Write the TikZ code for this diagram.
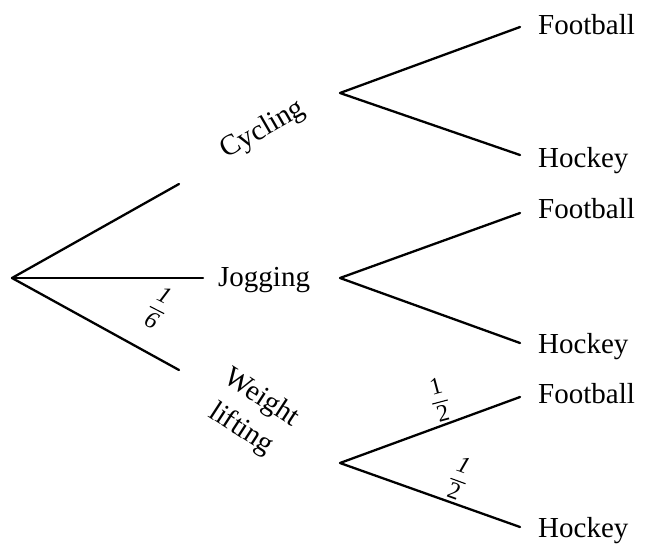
\documentclass[tikz,border=0pt]{standalone}
\usepackage{fontspec}
\setmainfont{Liberation Serif}
\newcommand{\myfrac}[2]{{\renewcommand{\arraystretch}{0.95}\setlength{\arrayrulewidth}{1.1pt}\begin{tabular}{@{\hspace{2pt}}c@{\hspace{2pt}}}#1\\\hline #2\end{tabular}}}
\begin{document}
\begin{tikzpicture}[x=1pt,y=-1pt,
  branch/.style={line width=2.3pt, line cap=round, line join=round},
  lbl/.style={font=\fontsize{29}{35}\selectfont, inner sep=0pt},
  prob/.style={font=\fontsize{24}{28}\selectfont, inner sep=0pt}]
\useasboundingbox (0,0) rectangle (645,544);
% level 1
\coordinate (root) at (12,278);
\coordinate (c1) at (179,184);
\coordinate (j1) at (203,278);
\coordinate (w1) at (179,370);
\draw[branch] (root) -- (c1);
\draw[branch] (root) -- (j1);
\draw[branch] (root) -- (w1);
\node[lbl, rotate=30] (cyc) at (263,130) {Cycling};
\node[lbl, anchor=base west] (jog) at (218,286) {Jogging};
\node[lbl, rotate=-33, align=center] (wl) at (251,414) {Weight\\[2pt]lifting};
\node[prob, rotate=-27] (p16) at (157,310) {\myfrac{\itshape 1}{\itshape 6}};
% level 2 apexes
\coordinate (ca) at (340,93);
\coordinate (ja) at (340,278);
\coordinate (wa) at (340,463);
% ends
\coordinate (cf) at (520,27);
\coordinate (ch) at (520,155);
\coordinate (jf) at (520,213);
\coordinate (jh) at (520,343);
\coordinate (wf) at (520,397);
\coordinate (wh) at (520,527);
\draw[branch] (cf) -- (ca) -- (ch);
\draw[branch] (jf) -- (ja) -- (jh);
\draw[branch] (wf) -- (wa) -- (wh);
\node[lbl, anchor=base west] (cfl) at (538,34) {Football};
\node[lbl, anchor=base west] (chl) at (538,167) {Hockey};
\node[lbl, anchor=base west] (jfl) at (538,218) {Football};
\node[lbl, anchor=base west] (jhl) at (538,353) {Hockey};
\node[lbl, anchor=base west] (wfl) at (538,403) {Football};
\node[lbl, anchor=base west] (whl) at (538,537) {Hockey};
\node[prob, rotate=15] (p12a) at (440,402) {\myfrac{1}{2}};
\node[prob, rotate=-20] (p12b) at (458,481) {\myfrac{\itshape 1}{2}};
\end{tikzpicture}
\end{document}
